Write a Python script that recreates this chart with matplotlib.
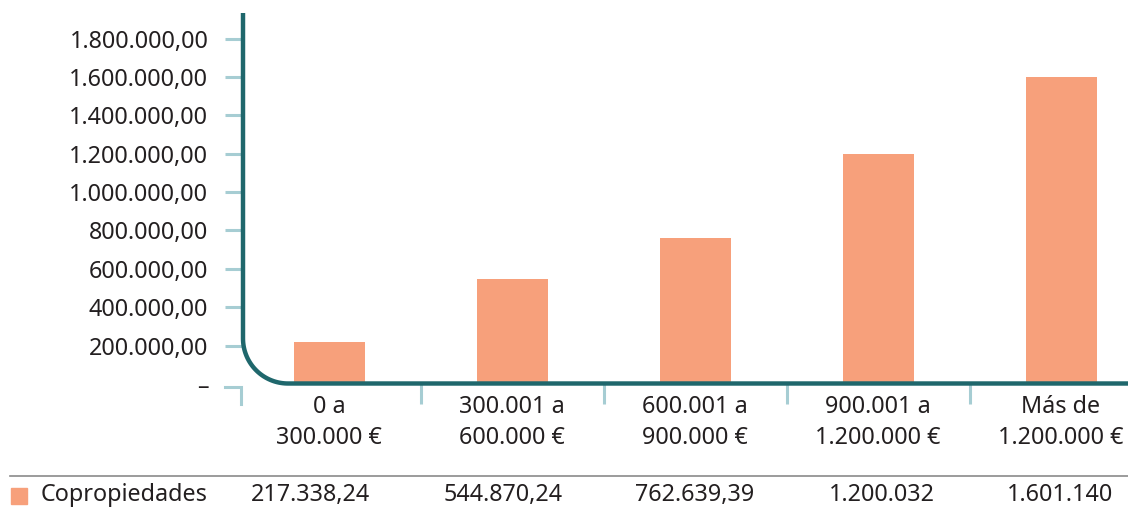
import matplotlib
matplotlib.use("Agg")
import matplotlib.pyplot as plt
from matplotlib.transforms import Affine2D
import numpy as np

plt.rcParams['font.family'] = ['Noto Sans', 'DejaVu Sans']

# --- data -------------------------------------------------------------
categories = ["0 a\n300.000 €", "300.001 a\n600.000 €", "600.001 a\n900.000 €",
              "900.001 a\n1.200.000 €", "Más de\n1.200.000 €"]
series_name = "Copropiedades"
values = [217338.24, 544870.24, 762639.39, 1200032, 1601140]
value_labels = ["217.338,24", "544.870,24", "762.639,39", "1.200.032", "1.601.140"]
y_ticks = [0, 200000, 400000, 600000, 800000, 1000000, 1200000, 1400000, 1600000, 1800000]
y_tick_labels = ["–", "200.000,00", "400.000,00", "600.000,00", "800.000,00",
                 "1.000.000,00", "1.200.000,00", "1.400.000,00", "1.600.000,00", "1.800.000,00"]

# --- style ------------------------------------------------------------
BAR = "#f7a07b"
AXIS = "#1f676c"
TICK = "#a6cdd3"
TEXT = "#231f20"
FS = 16.8

W, H = 1128, 512
fig = plt.figure(figsize=(W / 100, H / 100), dpi=100)
# pixel coordinate transform (origin top-left) for decorative strokes
px = Affine2D().scale(0.01, -0.01).translate(0, H / 100) + fig.dpi_scale_trans

left, right, top, bottom = 243, 1128, 13, 384
ax = fig.add_axes([left / W, 1 - bottom / H, (right - left) / W, (bottom - top) / H])

x = np.arange(len(categories))
step = 183.0
x0 = 329.0
ax.set_xlim(-(x0 - left) / step, (right - x0) / step)
px_per_unit = (384 - 38.5) / 1800000
ax.set_ylim(0, (bottom - top) / px_per_unit)

ax.bar(x, values, width=71 / step, color=BAR, zorder=2)

for s in ax.spines.values():
    s.set_visible(False)

# y ticks
ax.set_yticks(y_ticks)
ax.set_yticklabels(y_tick_labels, fontsize=FS, color=TEXT)
ax.tick_params(axis='y', direction='out', length=13, width=2.2, color=TICK, pad=12)
ax.yaxis.get_major_ticks()[0].tick1line.set_visible(False)

# x ticks: category labels centred, separators as minor ticks
ax.set_xticks(x)
ax.set_xticklabels(categories, fontsize=FS, color=TEXT, linespacing=1.38)
ax.tick_params(axis='x', which='major', length=0, pad=8)
ax.set_xticks(x[:-1] + 0.5, minor=True)
ax.tick_params(axis='x', which='minor', direction='out', length=14.5, width=2.2, color=TICK)

# axis line with rounded corner
r = 45
t = np.linspace(np.pi, 1.5 * np.pi, 40)
cx, cy = left + r, 383.5 - r
arc_x = cx + r * np.cos(t)
arc_y = cy - r * np.sin(t)
path_x = np.concatenate([[left], arc_x, [W]])
path_y = np.concatenate([[top], arc_y, [383.5]])
fig.add_artist(plt.Line2D(path_x, path_y, transform=px, color=AXIS, lw=3.2,
                          solid_capstyle='butt', solid_joinstyle='round', zorder=5))

# zero bracket
fig.add_artist(plt.Line2D([225, 241, 241], [387, 387, 404], transform=px,
                          color=TICK, lw=2.2, solid_joinstyle='miter'))

# table row
fig.add_artist(plt.Line2D([10, W], [476, 476], transform=px, color="#8a8a8a", lw=1.2))
fig.add_artist(plt.Rectangle((11, 488), 16, 16, transform=px, color=BAR))
fig.text(41 / W, 1 - 495 / H, series_name, fontsize=FS, color=TEXT, va='center', ha='left')
label_x = [311, 503.5, 695, 882, 1060]
for lx, lab in zip(label_x, value_labels):
    fig.text(lx / W, 1 - 495 / H, lab, fontsize=FS, color=TEXT, va='center', ha='center')

fig.savefig("out.png", dpi=100)
